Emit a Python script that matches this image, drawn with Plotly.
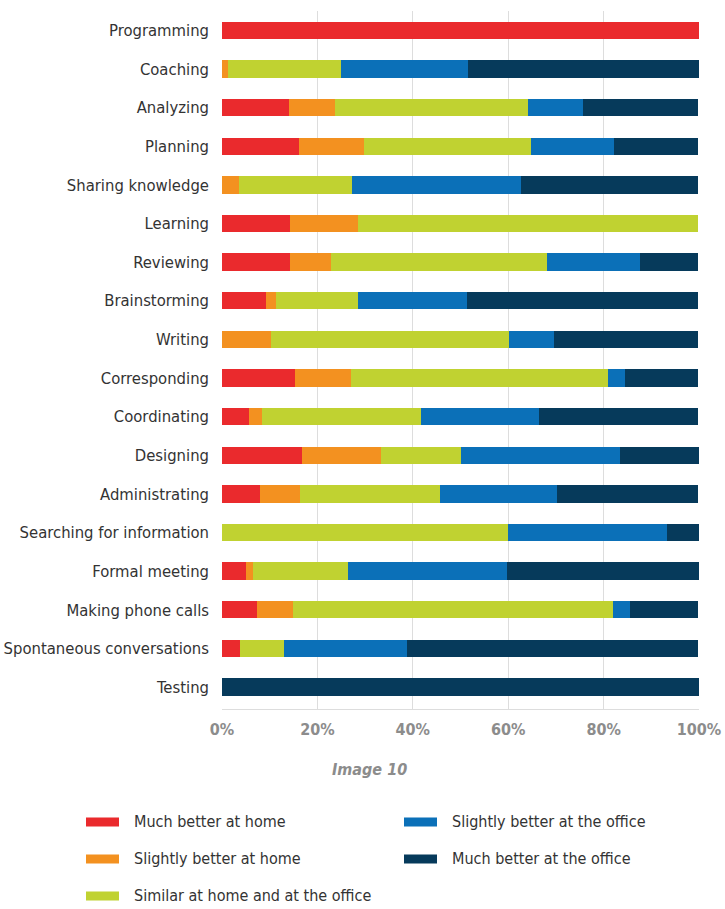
import plotly.graph_objects as go

# Activities, listed top to bottom
categories = [
    "Programming", "Coaching", "Analyzing", "Planning", "Sharing knowledge",
    "Learning", "Reviewing", "Brainstorming", "Writing", "Corresponding",
    "Coordinating", "Designing", "Administrating", "Searching for information",
    "Formal meeting", "Making phone calls", "Spontaneous conversations", "Testing",
]

series_names = [
    "Much better at home",
    "Slightly better at home",
    "Similar at home and at the office",
    "Slightly better at the office",
    "Much better at the office",
]

# Share of respondents (%) per answer, one value per activity
much_home = [100, 0, 14.1, 16.2, 0, 14.3, 14.3, 9.2, 0, 15.3,
             5.7, 16.7, 8.0, 0, 5.0, 7.4, 3.8, 0]
slightly_home = [0, 1.3, 9.5, 13.6, 3.6, 14.2, 8.6, 2.2, 10.2, 11.8,
                 2.7, 16.7, 8.4, 0, 1.5, 7.4, 0, 0]
similar = [0, 23.7, 40.5, 34.9, 23.7, 71.3, 45.2, 17.1, 49.9, 53.8,
           33.3, 16.6, 29.4, 60.0, 20.0, 67.1, 9.2, 0]
slightly_office = [0, 26.5, 11.5, 17.4, 35.3, 0, 19.5, 22.8, 9.6, 3.6,
                   24.7, 33.4, 24.4, 33.3, 33.2, 3.6, 25.8, 0]
much_office = [0, 48.5, 24.2, 17.7, 37.2, 0, 12.2, 48.5, 30.1, 15.3,
               33.4, 16.6, 29.6, 6.7, 40.3, 14.3, 61.0, 100]

series_values = [much_home, slightly_home, similar, slightly_office, much_office]
colors = ["#EA2A2D", "#F39120", "#C0D231", "#0B70B8", "#063A5B"]

x_ticks = [0, 20, 40, 60, 80, 100]
x_tick_labels = ["0%", "20%", "40%", "60%", "80%", "100%"]
caption = "Image 10"

FONT = "DejaVu Sans Condensed, DejaVu Sans, sans-serif"
W, H = 725, 909
L, R, T, B = 222, 26, 10.7, 200
PW, PH = W - L - R, H - T - B


def px(x):
    return (x - L) / PW


def py(y):
    return (H - B - y) / PH


def font(size, color, **kw):
    return dict(family=FONT, size=size, color=color, **kw)


fig = go.Figure()
for name, vals, col in zip(series_names, series_values, colors):
    fig.add_trace(go.Bar(
        y=categories, x=vals, name=name, orientation="h",
        marker=dict(color=col, line=dict(width=0)), width=0.45,
        showlegend=False,
        hovertemplate="%{y}: %{x:.1f}%<extra>" + name + "</extra>",
    ))

# Two-column legend with wide swatches
legend_pos = [(86, 822), (86, 859), (86, 896), (404, 822), (404, 859)]
shapes, annotations = [], []
for (lx, ly), name, col in zip(legend_pos, series_names, colors):
    shapes.append(dict(type="rect", xref="paper", yref="paper",
                       x0=px(lx), x1=px(lx + 33), y0=py(ly + 4.5), y1=py(ly - 4.5),
                       fillcolor=col, line=dict(width=0)))
    annotations.append(dict(text=name, xref="paper", yref="paper",
                            x=px(lx + 46), y=py(ly), xanchor="left", yanchor="middle",
                            showarrow=False, font=font(16, "#333333")))

annotations.append(dict(text=caption, xref="paper", yref="paper",
                        x=px(369), y=py(770), xanchor="center", yanchor="middle",
                        showarrow=False,
                        font=font(16, "#8c8c8c", weight="bold", style="italic")))

fig.update_layout(
    width=W, height=H,
    margin=dict(l=L, r=R, t=T, b=B, pad=0),
    barmode="stack",
    plot_bgcolor="white", paper_bgcolor="white",
    shapes=shapes, annotations=annotations,
    xaxis=dict(range=[0, 100], tickmode="array", tickvals=x_ticks, ticktext=x_tick_labels,
               showgrid=True, gridcolor="#dddddd", gridwidth=1,
               zeroline=False, showline=True, linecolor="#dddddd", linewidth=1,
               ticks="", ticklabelstandoff=6, fixedrange=True, automargin=False,
               tickfont=font(16, "#8c8c8c", weight="bold")),
    yaxis=dict(type="category", categoryorder="array", categoryarray=categories,
               range=[len(categories) - 0.43, -0.5], automargin=False,
               showgrid=False, zeroline=False, showline=False, ticks="",
               ticklabelstandoff=12, fixedrange=True,
               tickfont=font(16.5, "#333333")),
    bargap=0.55,
)

fig.write_html("out.html")
